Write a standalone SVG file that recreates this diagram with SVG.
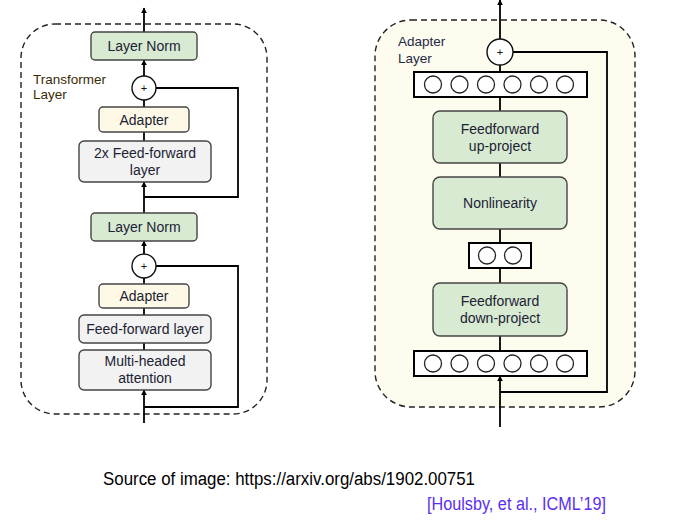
<svg xmlns="http://www.w3.org/2000/svg" width="699" height="523" viewBox="0 0 699 523">
<defs>
<marker id="ah" viewBox="0 0 10 10" refX="9" refY="5" markerWidth="6" markerHeight="7" orient="auto" markerUnits="userSpaceOnUse">
<path d="M0,0 L10,5 L0,10 Z" fill="#000"/>
</marker>
<style>
.panel{fill:#fff;stroke:#222;stroke-width:1.4;stroke-dasharray:6 4}
.green{fill:#d9ead3;stroke:#444;stroke-width:1.4}
.cream{fill:#fdf9e6;stroke:#444;stroke-width:1.4}
.gray{fill:#f2f2f2;stroke:#444;stroke-width:1.4}
.nbox{fill:#fff;stroke:#000;stroke-width:2}
.neu{fill:#fff;stroke:#222;stroke-width:1.3}
.plus{fill:#fff;stroke:#111;stroke-width:1.4}
.ln{fill:none;stroke:#000;stroke-width:1.8}
.lbl{font-family:"Liberation Sans",Arial,sans-serif;font-size:14px;fill:#1c2233;text-anchor:middle}
.ttl{font-family:"Liberation Sans",Arial,sans-serif;font-size:13.5px}
.pl{font-family:"Liberation Sans",Arial,sans-serif;font-size:11px;fill:#111;text-anchor:middle}
</style>
</defs>
<rect width="699" height="523" fill="#fff"/>

<!-- Panels -->
<g id="transformer-panel">
<rect class="panel" x="21" y="24" width="246" height="390" rx="34"/>
<text class="ttl" fill="#3a2c05" x="33" y="84">Transformer</text>
<text class="ttl" fill="#3a2c05" x="33" y="99">Layer</text>
</g>
<g id="adapter-panel">
<rect class="panel" x="375" y="20" width="260" height="387" rx="36" style="fill:#fdfcee"/>
<text class="ttl" fill="#1f2a44" x="398" y="46">Adapter</text>
<text class="ttl" fill="#1f2a44" x="398" y="63">Layer</text>
</g>

<!-- Connectors -->
<g id="connectors">
<line class="ln" x1="144" y1="32" x2="144" y2="8" marker-end="url(#ah)"/>
<line class="ln" x1="144" y1="76" x2="144" y2="60" marker-end="url(#ah)"/>
<line class="ln" x1="144" y1="107" x2="144" y2="100"/>
<line class="ln" x1="144" y1="141" x2="144" y2="132"/>
<line class="ln" x1="144" y1="213" x2="144" y2="182" marker-end="url(#ah)"/>
<polyline class="ln" points="156,88 238,88 238,197 144,197"/>
<line class="ln" x1="144" y1="254" x2="144" y2="241" marker-end="url(#ah)"/>
<line class="ln" x1="144" y1="284" x2="144" y2="278"/>
<line class="ln" x1="144" y1="315" x2="144" y2="308"/>
<line class="ln" x1="144" y1="350" x2="144" y2="343"/>
<line class="ln" x1="144" y1="423" x2="144" y2="390" marker-end="url(#ah)"/>
<polyline class="ln" points="156,266 238,266 238,407 144,407"/>

<line class="ln" x1="500" y1="39" x2="500" y2="0" marker-end="url(#ah)"/>
<line class="ln" x1="500" y1="72" x2="500" y2="65"/>
<line class="ln" x1="500" y1="111" x2="500" y2="97"/>
<line class="ln" x1="500" y1="177" x2="500" y2="163"/>
<line class="ln" x1="500" y1="243" x2="500" y2="229"/>
<line class="ln" x1="500" y1="283" x2="500" y2="268"/>
<line class="ln" x1="500" y1="351" x2="500" y2="336"/>
<line class="ln" x1="500" y1="427" x2="500" y2="376" marker-end="url(#ah)"/>
<polyline class="ln" points="513,52 607,52 607,392 500,392"/>
</g>

<!-- Left nodes -->
<g id="layernorm-top">
<rect class="green" x="91" y="32" width="106" height="28" rx="4"/>
<text class="lbl" x="144" y="51">Layer Norm</text>
</g>
<g id="plus-top">
<circle class="plus" cx="144" cy="88" r="12"/>
<text class="pl" x="144" y="92">+</text>
</g>
<g id="adapter-top">
<rect class="cream" x="99" y="107" width="90" height="25" rx="4"/>
<text class="lbl" x="144" y="124.5">Adapter</text>
</g>
<g id="ff2x">
<rect class="gray" x="79" y="141" width="132" height="41" rx="5"/>
<text class="lbl" x="145" y="158">2x Feed-forward</text>
<text class="lbl" x="145" y="174.5">layer</text>
</g>
<g id="layernorm-bottom">
<rect class="green" x="91" y="213" width="106" height="28" rx="4"/>
<text class="lbl" x="144" y="232">Layer Norm</text>
</g>
<g id="plus-bottom">
<circle class="plus" cx="144" cy="266" r="12"/>
<text class="pl" x="144" y="270">+</text>
</g>
<g id="adapter-bottom">
<rect class="cream" x="99" y="284" width="90" height="24" rx="4"/>
<text class="lbl" x="144" y="301">Adapter</text>
</g>
<g id="ff">
<rect class="gray" x="79" y="315" width="132" height="28" rx="5"/>
<text class="lbl" x="145" y="334">Feed-forward layer</text>
</g>
<g id="mha">
<rect class="gray" x="79" y="350" width="132" height="40" rx="5"/>
<text class="lbl" x="145" y="366">Multi-headed</text>
<text class="lbl" x="145" y="382.5">attention</text>
</g>

<!-- Right nodes -->
<g id="plus-adapter">
<circle class="plus" cx="500" cy="52" r="13"/>
<text class="pl" x="500" y="56">+</text>
</g>
<g id="neurons-top">
<rect class="nbox" x="414" y="72" width="173" height="25"/>
<circle class="neu" cx="433" cy="84.5" r="8.5"/>
<circle class="neu" cx="459.5" cy="84.5" r="8.5"/>
<circle class="neu" cx="486" cy="84.5" r="8.5"/>
<circle class="neu" cx="512.5" cy="84.5" r="8.5"/>
<circle class="neu" cx="539" cy="84.5" r="8.5"/>
<circle class="neu" cx="565" cy="84.5" r="8.5"/>
</g>
<g id="ff-up">
<rect class="green" x="433" y="111" width="134" height="52" rx="7"/>
<text class="lbl" x="500" y="134">Feedforward</text>
<text class="lbl" x="500" y="150.5">up-project</text>
</g>
<g id="nonlinearity">
<rect class="green" x="433" y="177" width="134" height="52" rx="7"/>
<text class="lbl" x="500" y="208">Nonlinearity</text>
</g>
<g id="neurons-mid">
<rect class="nbox" x="469" y="243" width="62" height="25"/>
<circle class="neu" cx="487" cy="255.5" r="8.5"/>
<circle class="neu" cx="513" cy="255.5" r="8.5"/>
</g>
<g id="ff-down">
<rect class="green" x="433" y="283" width="134" height="53" rx="7"/>
<text class="lbl" x="500" y="306">Feedforward</text>
<text class="lbl" x="500" y="323">down-project</text>
</g>
<g id="neurons-bottom">
<rect class="nbox" x="414" y="351" width="173" height="25"/>
<circle class="neu" cx="433" cy="363.5" r="8.5"/>
<circle class="neu" cx="459.5" cy="363.5" r="8.5"/>
<circle class="neu" cx="486" cy="363.5" r="8.5"/>
<circle class="neu" cx="512.5" cy="363.5" r="8.5"/>
<circle class="neu" cx="539" cy="363.5" r="8.5"/>
<circle class="neu" cx="565" cy="363.5" r="8.5"/>
</g>

<!-- Captions -->
<g id="captions">
<text x="103" y="485" font-family="'Liberation Sans',Arial,sans-serif" font-size="18" fill="#000" textLength="372" lengthAdjust="spacingAndGlyphs">Source of image: https://arxiv.org/abs/1902.00751</text>
<text x="427" y="510" font-family="'Liberation Sans',Arial,sans-serif" font-size="18" fill="#5a2ef2" textLength="179" lengthAdjust="spacingAndGlyphs">[Houlsby, et al., ICML’19]</text>
</g>
</svg>
